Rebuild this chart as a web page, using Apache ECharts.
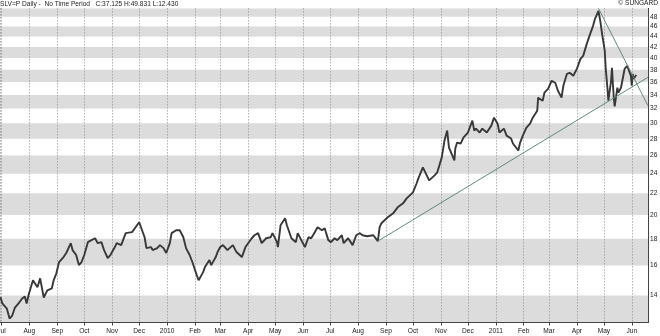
<!DOCTYPE html>
<html><head><meta charset="utf-8">
<script src="https://cdn.jsdelivr.net/npm/echarts@6/dist/echarts.min.js"></script>
<style>html,body{margin:0;padding:0;background:#fff}#c{width:660px;height:336px}</style>
</head><body><div id="c"></div>
<script>
// ---- data (daily SLV, approx closes) ----
const dates = [
'2009-06-30','2009-07-02','2009-07-07','2009-07-10','2009-07-13','2009-07-16','2009-07-20','2009-07-24','2009-07-27','2009-07-29','2009-07-31',
'2009-08-04','2009-08-05','2009-08-10','2009-08-13','2009-08-17','2009-08-18','2009-08-21','2009-08-26','2009-08-28','2009-08-31',
'2009-09-03','2009-09-08','2009-09-11','2009-09-16','2009-09-18','2009-09-22','2009-09-25','2009-09-28',
'2009-10-01','2009-10-05','2009-10-09','2009-10-13','2009-10-16','2009-10-20','2009-10-23','2009-10-27','2009-10-30',
'2009-11-04','2009-11-06','2009-11-11','2009-11-16','2009-11-18','2009-11-23','2009-11-25',
'2009-12-01','2009-12-03','2009-12-07','2009-12-09','2009-12-14','2009-12-16','2009-12-21','2009-12-24','2009-12-28','2009-12-31',
'2010-01-04','2010-01-06','2010-01-11','2010-01-13','2010-01-15','2010-01-19','2010-01-22','2010-01-26','2010-01-29',
'2010-02-03','2010-02-05','2010-02-08','2010-02-10','2010-02-12','2010-02-17','2010-02-19','2010-02-24','2010-02-26',
'2010-03-01','2010-03-04','2010-03-09','2010-03-15','2010-03-19','2010-03-25','2010-03-29',
'2010-04-05','2010-04-08','2010-04-12','2010-04-16','2010-04-21','2010-04-26','2010-04-28',
'2010-05-03','2010-05-04','2010-05-07','2010-05-12','2010-05-14','2010-05-19','2010-05-24','2010-05-26','2010-05-28',
'2010-06-03','2010-06-07','2010-06-10','2010-06-14','2010-06-17','2010-06-22','2010-06-25','2010-06-29',
'2010-07-02','2010-07-06','2010-07-09','2010-07-14','2010-07-16','2010-07-21','2010-07-26','2010-07-30',
'2010-08-03','2010-08-06','2010-08-11','2010-08-13','2010-08-18','2010-08-23','2010-08-25','2010-08-27',
'2010-09-03','2010-09-09','2010-09-14','2010-09-20','2010-09-24',
'2010-10-01','2010-10-05','2010-10-07','2010-10-12','2010-10-14','2010-10-19','2010-10-25','2010-10-28',
'2010-11-02','2010-11-05','2010-11-08','2010-11-10','2010-11-16','2010-11-17','2010-11-19','2010-11-23','2010-11-26',
'2010-12-01','2010-12-06','2010-12-08','2010-12-10','2010-12-14','2010-12-17','2010-12-22','2010-12-27','2010-12-30',
'2011-01-03','2011-01-05','2011-01-10','2011-01-13','2011-01-18','2011-01-20','2011-01-26','2011-01-28','2011-01-31',
'2011-02-04','2011-02-08','2011-02-11','2011-02-16','2011-02-17','2011-02-22','2011-02-24','2011-02-28',
'2011-03-04','2011-03-08','2011-03-11','2011-03-15','2011-03-17','2011-03-21','2011-03-24','2011-03-28',
'2011-04-01','2011-04-05','2011-04-08','2011-04-12','2011-04-15','2011-04-19','2011-04-21','2011-04-25','2011-04-27','2011-04-29',
'2011-05-02','2011-05-03','2011-05-05','2011-05-06','2011-05-09','2011-05-10','2011-05-11','2011-05-12','2011-05-13',
'2011-05-16','2011-05-17','2011-05-19','2011-05-20','2011-05-23','2011-05-24','2011-05-26','2011-05-27','2011-05-31',
'2011-06-01','2011-06-02','2011-06-03','2011-06-06'
];
const closes = [
13.90,13.52,13.22,12.65,12.82,13.28,13.52,13.82,13.94,13.52,14.00,
14.78,14.98,14.52,15.11,13.88,13.82,14.33,14.46,14.98,15.45,
16.24,16.60,16.90,17.65,17.12,16.75,16.02,16.24,
16.75,17.73,17.89,18.04,17.65,17.73,17.12,16.53,16.75,
17.35,17.65,17.50,18.45,18.53,18.53,18.45,
19.36,18.94,18.12,17.27,17.35,17.12,17.27,17.50,17.27,16.90,
17.65,18.45,18.69,18.53,18.69,18.12,17.27,16.75,16.24,
15.31,14.98,15.31,15.53,15.88,16.38,16.02,16.60,16.97,
17.35,17.50,17.12,17.50,16.97,16.60,17.35,
18.04,18.28,18.45,17.65,18.04,18.12,18.45,
17.73,17.35,19.11,19.70,19.11,18.04,17.73,18.45,18.45,
17.35,18.12,18.04,18.53,18.94,18.69,18.86,17.89,
17.73,18.04,17.89,18.28,17.65,18.04,17.50,18.28,
18.45,18.28,18.20,18.04,18.28,17.81,18.94,19.28,
19.79,20.14,20.68,21.05,21.52,
22.10,22.98,23.51,24.67,24.56,23.30,23.82,24.14,
25.79,27.78,29.03,26.94,25.45,26.82,27.54,27.42,28.15,
28.78,30.34,29.03,29.29,28.78,29.29,28.78,29.68,30.74,
29.94,28.78,29.29,28.40,28.03,27.42,26.59,27.54,28.40,
29.42,29.94,30.74,31.70,33.58,33.14,34.33,34.93,
36.19,35.87,34.63,33.58,35.40,37.32,37.49,36.99,
38.15,39.87,40.40,42.60,44.14,46.13,47.50,49.30,47.16,44.53,
41.30,38.32,34.93,33.14,36.19,38.32,35.71,33.58,32.30,
35.09,34.33,34.63,35.09,37.32,38.15,37.82,38.66,36.99,
35.40,37.32,36.51,37.125
];
const trendUpDates = ['2010-08-23', '2011-06-19'];
const trendUpValues = [17.81, 36.75];
const trendDownDates = ['2011-04-25', '2011-06-19'];
const trendDownValues = [49.83, 32.4];
const yTickValues = [14,16,18,20,22,24,26,28,30,32,34,36,38,40,42,44,46,48];
const bandRanges = [[12,14],[16,18],[20,22],[24,26],[28,30],[32,34],[36,38],[40,42],[44,46],[48,50]];
const priceLow = 12.430, priceHigh = 49.831;
const xStart = '2009-06-29T10:00:00', xEnd = '2011-06-19T00:00:00';
const titleText = 'SLV=P Daily -  No Time Period   C:37.125 H:49.831 L:12.430';
const sourceText = '\u00A9 SUNGARD';

// ---- build chart ----
const L = Math.log;
const yMin = L(priceLow), yMax = L(priceHigh);
const clampY = v => Math.min(yMax, Math.max(yMin, L(v)));
const FONT = "'Liberation Sans', Arial, sans-serif";
const chart = echarts.init(document.getElementById('c'), null, {renderer: 'canvas'});
const DAY = 86400000;
const priceData = dates.map((d, i) => [d, L(closes[i])]);
chart.setOption({
  animation: false,
  backgroundColor: '#ffffff',
  title: [
    {text: titleText, left: 0, top: 1, padding: 0,
     textStyle: {fontSize: 6.6, fontWeight: 'normal', color: '#222', fontFamily: FONT}},
    {text: sourceText, right: 2, top: 0, padding: 0,
     textStyle: {fontSize: 6.6, fontWeight: 'normal', color: '#222', fontFamily: FONT}}
  ],
  grid: {left: 0, right: 12, top: 8.4, bottom: 13.5, containLabel: false, outerBoundsMode: 'none'},
  xAxis: {
    type: 'time', min: xStart, max: xEnd, z: 1,
    minInterval: 28 * DAY, maxInterval: 31 * DAY,
    axisLine: {show: true, lineStyle: {color: '#444', width: 1}},
    axisTick: {show: true, length: 3, lineStyle: {color: '#444'}},
    axisLabel: {show: true, interval: 0, margin: 5, fontSize: 6.6, color: '#222', fontFamily: FONT,
      showMinLabel: false, showMaxLabel: false, hideOverlap: false,
      formatter: {year: '{yyyy}', month: '{MMM}', day: '{MMM}'}},
    splitLine: {show: true, lineStyle: {color: '#8a8a8a', width: 1, type: [1, 2]}}
  },
  yAxis: {
    type: 'value', position: 'right', min: yMin, max: yMax, z: 1,
    axisLine: {show: true, lineStyle: {color: '#444', width: 1}},
    axisTick: {show: false},
    axisLabel: {show: true, margin: 2, fontSize: 6.6, color: '#222', fontFamily: FONT,
      customValues: yTickValues.map(L),
      formatter: v => String(Math.round(Math.exp(v)))},
    splitLine: {show: false}
  },
  series: [
    {
      // carrier for the alternating background bands (drawn under the grid lines)
      type: 'line', name: 'bands', symbol: 'none', z: 0, silent: true,
      data: priceData, lineStyle: {opacity: 0, width: 0},
      markArea: {
        silent: true, z: 0,
        itemStyle: {color: '#dcdcdc'},
        data: bandRanges.map(b => [{yAxis: clampY(b[0])}, {yAxis: clampY(b[1])}])
      }
    },
    {
      type: 'line', name: 'SLV', symbol: 'none', z: 2,
      data: priceData,
      lineStyle: {color: '#383838', width: 1.9}
    },
    {
      type: 'line', name: 'trendUp', symbol: 'none', z: 3,
      data: trendUpDates.map((d, i) => [d, L(trendUpValues[i])]),
      lineStyle: {color: '#5e8a80', width: 1}
    },
    {
      type: 'line', name: 'trendDown', symbol: 'none', z: 3,
      data: trendDownDates.map((d, i) => [d, L(trendDownValues[i])]),
      lineStyle: {color: '#5e8a80', width: 1}
    }
  ]
});
</script></body></html>
